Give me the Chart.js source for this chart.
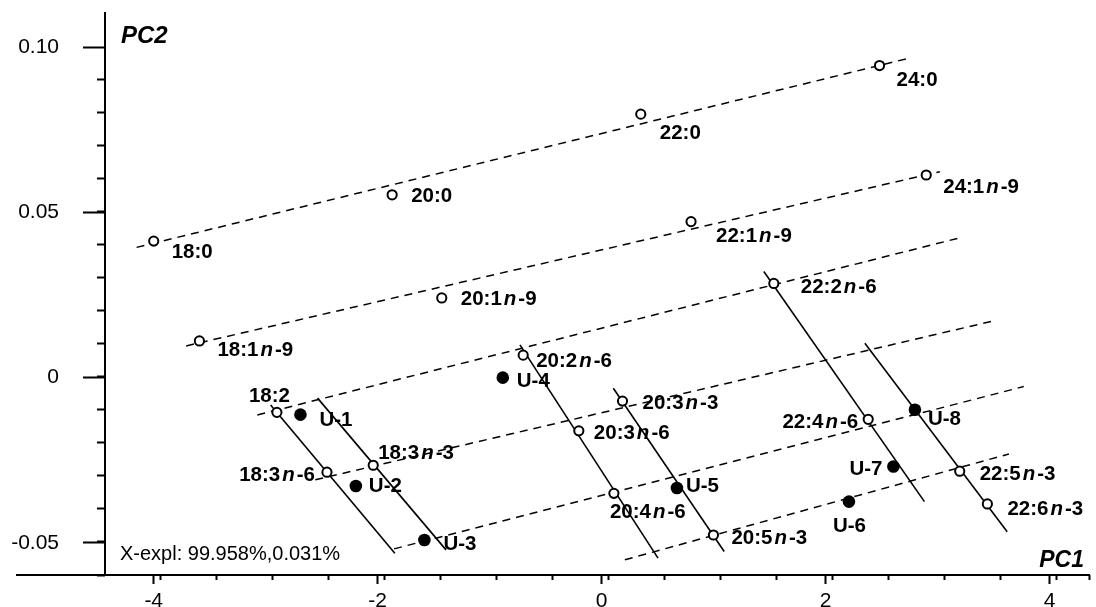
<!DOCTYPE html>
<html>
<head>
<meta charset="utf-8">
<script src="https://cdn.jsdelivr.net/npm/chart.js"></script>
<style>
  html, body { margin: 0; padding: 0; background: #fff; }
  #wrap { width: 1096px; height: 607px; }
</style>
</head>
<body>
<div id="wrap"><canvas id="pca"></canvas></div>
<script>
// reference fatty acids (open circles)
const faLabels = ['18:0', '20:0', '22:0', '24:0',
  '18:1n-9', '20:1n-9', '22:1n-9', '24:1n-9',
  '18:2', '18:3n-6', '18:3n-3', '20:2n-6', '20:3n-6', '20:3n-3',
  '20:4n-6', '20:5n-3', '22:2n-6', '22:4n-6', '22:5n-3', '22:6n-3'];
const faPC1 = [-4.00, -1.871, 0.349, 2.481,
  -3.592, -1.428, 0.798, 2.898,
  -2.900, -2.453, -2.040, -0.701, -0.204, 0.186,
  0.109, 0.998, 1.537, 2.380, 3.197, 3.444];
const faPC2 = [0.0413, 0.0553, 0.0797, 0.0944,
  0.0111, 0.0241, 0.0472, 0.0613,
  -0.0105, -0.0286, -0.0265, 0.0068, -0.0161, -0.0071,
  -0.0350, -0.0476, 0.0285, -0.0126, -0.0283, -0.0382];

// unknowns (filled circles)
const unkLabels = ['U-1', 'U-2', 'U-3', 'U-4', 'U-5', 'U-6', 'U-7', 'U-8'];
const unkPC1 = [-2.690, -2.195, -1.583, -0.883, 0.672, 2.208, 2.605, 2.797];
const unkPC2 = [-0.0112, -0.0328, -0.0491, 0.0000, -0.0334, -0.0375, -0.0269, -0.0097];

// dashed lines (start, end)
const dashPC1 = [[-4.153, 2.765], [-3.710, 3.020], [-3.075, 3.222], [-2.557, 3.503], [-1.854, 3.769], [0.207, 3.636]];
const dashPC2 = [[0.0394, 0.0968], [0.0096, 0.0623], [-0.0113, 0.0425], [-0.0309, 0.0172], [-0.0518, -0.0027], [-0.0551, -0.0231]];
// solid lines (start, end)
const solidPC1 = [[-2.956, -1.847], [-2.537, -1.390], [-0.730, 0.503], [0.104, 1.094], [1.448, 2.882], [2.350, 3.621]];
const solidPC2 = [[-0.0083, -0.0531], [-0.0062, -0.0521], [0.0099, -0.0546], [-0.0032, -0.0526], [0.0321, -0.0375], [0.0104, -0.0466]];

const xTicks = [-4, -2, 0, 2, 4];
const yTicks = [-0.05, 0, 0.05, 0.10];

const xMin = -4.435, xMax = 4.355, yMin = -0.0597, yMax = 0.1103;
const FONT = "'Liberation Sans', Arial, sans-serif";

// label offsets from the point [dx, dy, align]
const labelPos = {
  '18:0': [18, 10], '20:0': [19, 0], '22:0': [19, 18], '24:0': [17, 13],
  '18:1n-9': [18, 8], '20:1n-9': [19, 0], '22:1n-9': [25, 13], '24:1n-9': [17, 11],
  '18:2': [-28, -17], '18:3n-6': [-12, 2, 'right'], '18:3n-3': [5, -13],
  '20:2n-6': [13, 5], '20:3n-6': [15, 1], '20:3n-3': [20, 1], '20:4n-6': [-4, 18],
  '20:5n-3': [18, 2], '22:2n-6': [27, 3], '22:4n-6': [-10, 2, 'right'],
  '22:5n-3': [20, 2], '22:6n-3': [20, 4],
  'U-1': [19, 4], 'U-2': [13, -1], 'U-3': [19, 3], 'U-4': [14, 2],
  'U-5': [9, -3], 'U-6': [-16, 23], 'U-7': [-11, 1, 'right'], 'U-8': [13, 8]
};

function pts(xs, ys) { return xs.map((x, i) => ({ x: x, y: ys[i] })); }

const datasets = [
  { label: 'unknowns', data: pts(unkPC1, unkPC2), pointRadius: 6.3, pointBackgroundColor: '#000',
    pointBorderColor: '#000', pointBorderWidth: 0, showLine: false, names: unkLabels },
  { label: 'standards', data: pts(faPC1, faPC2), pointRadius: 4.6, pointBackgroundColor: '#fff',
    pointBorderColor: '#000', pointBorderWidth: 2, showLine: false, names: faLabels }
];
dashPC1.forEach((xs, i) => datasets.push({
  data: pts(xs, dashPC2[i]), showLine: true, borderColor: '#000', borderWidth: 1.5,
  borderDash: [8, 6], pointRadius: 0, fill: false
}));
solidPC1.forEach((xs, i) => datasets.push({
  data: pts(xs, solidPC2[i]), showLine: true, borderColor: '#000', borderWidth: 1.6,
  pointRadius: 0, fill: false
}));

// draws "18:3n-6" with the n in italics
function richText(ctx, text, x, y, align) {
  const parts = text.split(/(n)/).filter(p => p);
  const fonts = parts.map(p => p === 'n' ? 'italic bold 20.5px ' + FONT : 'bold 20.5px ' + FONT);
  const gap = p => p === 'n' ? 2 : 0;
  let w = 0;
  parts.forEach((p, i) => { ctx.font = fonts[i]; w += ctx.measureText(p).width + 2 * gap(p); });
  let cx = align === 'right' ? x - w : x;
  parts.forEach((p, i) => {
    ctx.font = fonts[i];
    cx += gap(p);
    ctx.fillText(p, cx, y);
    cx += ctx.measureText(p).width + gap(p);
  });
}

// keep tick labels from pushing the plot area in
function noPad(s) { s.paddingTop = 0; s.paddingBottom = 0; s.paddingLeft = 0; s.paddingRight = 0; }

const labelPlugin = {
  id: 'labels',
  beforeDatasetsDraw(chart) {
    // PC1 axis runs on to the left of the PC2 axis
    const ctx = chart.ctx;
    const y = chart.scales.y.getPixelForValue(yMin);
    ctx.save();
    ctx.strokeStyle = '#000';
    ctx.lineWidth = 2;
    ctx.beginPath();
    ctx.moveTo(16, y);
    ctx.lineTo(chart.chartArea.left, y);
    ctx.stroke();
    ctx.restore();
  },
  afterDatasetsDraw(chart) {
    const ctx = chart.ctx;
    const xs = chart.scales.x, ys = chart.scales.y;
    ctx.save();
    ctx.fillStyle = '#000';
    ctx.textBaseline = 'alphabetic';
    ctx.textAlign = 'left';
    [0, 1].forEach(di => {
      const ds = chart.data.datasets[di];
      ds.data.forEach((p, i) => {
        const name = ds.names[i];
        const off = labelPos[name] || [15, 0];
        const px = xs.getPixelForValue(p.x), py = ys.getPixelForValue(p.y);
        richText(ctx, name, px + off[0], py + off[1] + 7, off[2]);
      });
    });
    // axis names and explained variance
    ctx.font = 'italic bold 24px ' + FONT;
    ctx.fillText('PC2', 121, 43);
    ctx.textAlign = 'right';
    ctx.font = 'italic bold 23px ' + FONT;
    ctx.fillText('PC1', 1084, 567);
    ctx.textAlign = 'left';
    ctx.font = '20px ' + FONT;
    ctx.fillText('X-expl: 99.958%,0.031%', 120, 560);
    ctx.restore();
  }
};

const tickFont = { family: FONT, size: 21 };

new Chart(document.getElementById('pca'), {
  type: 'scatter',
  data: { datasets: datasets },
  options: {
    responsive: true,
    maintainAspectRatio: false,
    animation: false,
    layout: { padding: { left: 0, right: 0, top: 13, bottom: 0 } },
    plugins: { legend: { display: false }, tooltip: { enabled: false } },
    scales: {
      x: {
        type: 'linear', min: xMin, max: xMax, bounds: 'data', position: 'bottom',
        afterBuildTicks: s => { s.ticks = xTicks.map(v => ({ value: v })); },
        afterFit: s => { s.height = 32; noPad(s); },
        grid: { drawOnChartArea: false, tickLength: 9, tickWidth: 2, tickColor: '#000' },
        border: { color: '#000', width: 2 },
        ticks: { font: tickFont, color: '#000', padding: 5, maxRotation: 0, autoSkip: false,
          callback: v => String(v) }
      },
      xMinor: {
        type: 'linear', axis: 'x', min: xMin, max: xMax, bounds: 'data',
        position: { y: yMin },
        afterBuildTicks: s => { s.ticks = s.ticks.filter(t => t.value >= -4.001); },
        afterFit: noPad,
        grid: { drawOnChartArea: false, tickLength: 5, tickWidth: 2, tickColor: '#000' },
        border: { display: false },
        ticks: { stepSize: 0.5, display: false, autoSkip: false }
      },
      y: {
        type: 'linear', min: yMin, max: yMax, bounds: 'data', position: 'left',
        afterBuildTicks: s => { s.ticks = yTicks.map(v => ({ value: v })); },
        afterFit: s => { s.width = 105; noPad(s); },
        grid: { drawOnChartArea: false, tickLength: 22, tickWidth: 2, tickColor: '#000' },
        border: { color: '#000', width: 2 },
        ticks: { font: tickFont, color: '#000', padding: 24, autoSkip: false,
          callback: v => v === 0 ? '0' : v.toFixed(2) }
      },
      yMinor: {
        type: 'linear', axis: 'y', min: yMin, max: yMax, bounds: 'data',
        position: { x: xMin },
        afterBuildTicks: s => { s.ticks = s.ticks.filter(t => t.value <= 0.1001); },
        afterFit: noPad,
        grid: { drawOnChartArea: false, tickLength: 8, tickWidth: 2, tickColor: '#000' },
        border: { display: false },
        ticks: { stepSize: 0.01, display: false, autoSkip: false }
      }
    }
  },
  plugins: [labelPlugin]
});
</script>
</body>
</html>
